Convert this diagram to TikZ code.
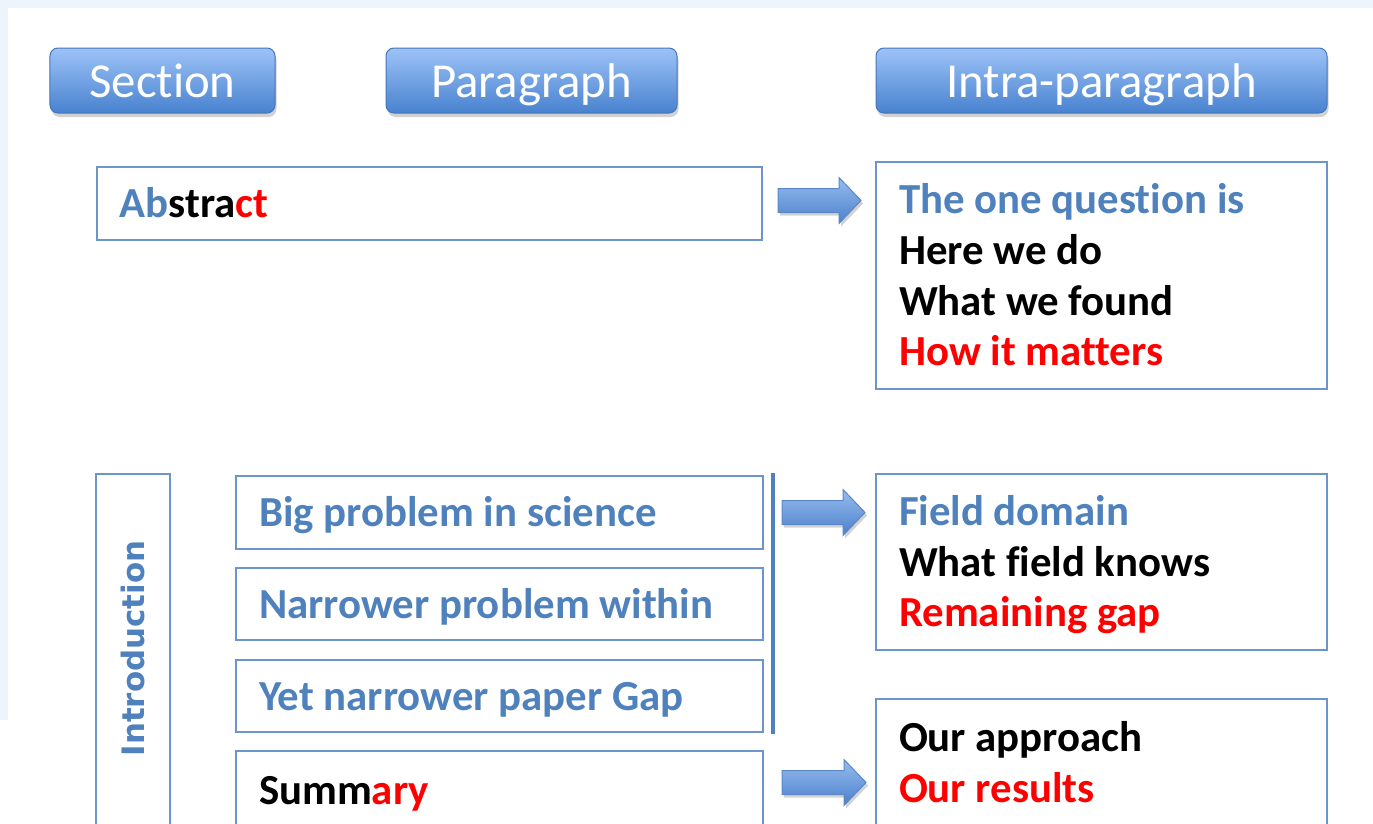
\documentclass[tikz,border=0pt]{standalone}
\usepackage{fontspec}
\setmainfont{Carlito}[Ligatures=NoCommon]
\newfontfamily\dejavufont{DejaVu Sans}
\usetikzlibrary{shadows,calc}
\definecolor{hdrtop}{RGB}{157,195,247}
\definecolor{hdrbot}{RGB}{72,130,207}
\definecolor{hdrborder}{RGB}{70,118,185}
\definecolor{boxborder}{RGB}{108,150,203}
\definecolor{txtblue}{RGB}{79,129,189}
\definecolor{txtred}{RGB}{255,0,0}
\definecolor{arrtop}{RGB}{150,188,238}
\definecolor{arrbot}{RGB}{76,128,204}
\definecolor{arrborder}{RGB}{90,135,200}
\definecolor{bgstrip}{RGB}{238,244,251}
\newcommand\linestrut{\rule[-0.25em]{0pt}{1.16em}}
\tikzset{
  hdr/.style={rounded corners=8bp, draw=hdrborder, line width=1bp,
    top color=hdrtop, bottom color=hdrbot, text=white,
    font=\fontsize{49}{58}\selectfont, inner sep=0pt, text height=37bp, text depth=4bp,
    drop shadow={opacity=0.35, shadow xshift=1.5bp, shadow yshift=-4bp}},
  tbox/.style={draw=boxborder, line width=2bp, fill=white, inner xsep=23bp, inner ysep=0pt,
    align=left, font=\fontsize{43}{51}\selectfont\bfseries, text=txtblue,
    execute at begin node={\spaceskip=0.226em plus 0.05em minus 0.05em\relax\linestrut},
    execute at end node={\linestrut}},
  barrow/.style={draw=arrborder, line width=1bp, top color=arrtop, bottom color=arrbot,
    drop shadow={opacity=0.35, shadow xshift=2bp, shadow yshift=-3bp}},
  vbar/.style={draw=txtblue, line width=4bp,
    drop shadow={opacity=0.3, shadow xshift=2bp, shadow yshift=-2bp}}
}
\newcommand\blockarrow[2]{%
  \path[barrow] let \p1=(#1), \p2=(#2) in
    (\x1,\y1+12bp) -- (\x2-22bp,\y1+12bp) -- (\x2-22bp,\y1+23bp) -- (\x2,\y1)
    -- (\x2-22bp,\y1-23bp) -- (\x2-22bp,\y1-12bp) -- (\x1,\y1-12bp) -- cycle;}
\begin{document}
\begin{tikzpicture}[x=1bp,y=-1bp]
\useasboundingbox (0,0) rectangle (1373,823);
\clip (0,0) rectangle (1373,823);
\fill[white] (0,0) rectangle (1373,823);
\fill[bgstrip] (0,0) rectangle (1373,8);
\fill[bgstrip] (0,0) rectangle (8,720);

% headers
\node[hdr, minimum width=225bp, minimum height=65bp] (sec) at (162.5,80.5) {Section};
\node[hdr, minimum width=291bp, minimum height=65bp] (par) at (531.5,80.5) {Paragraph};
\node[hdr, minimum width=451bp, minimum height=65bp] (ipar) at (1101.5,80.5) {Intra-paragraph};

% abstract
\node[tbox, text width=619bp, minimum height=73bp] (abs) at (429.5,203.5)
  {\textcolor{txtblue}{Ab}\textcolor{black}{stra}\textcolor{txtred}{ct}};
\node[tbox, text width=405bp, minimum height=227bp] (q1) at (1101.5,275.5)
  {The one question is\\ \textcolor{black}{Here we do}\\ \textcolor{black}{What we found}\\ \textcolor{txtred}{How it matters}};

% introduction
\node[draw=boxborder, line width=2bp, fill=white, minimum width=74bp, minimum height=380bp, inner sep=0pt] (intro) at (133,664) {};
\node[font=\dejavufont\bfseries\fontsize{31}{36}\selectfont, text=txtblue, rotate=90] (introlbl) at (133,648.5) {Introduction};

\node[tbox, text width=481bp, minimum height=73bp] (big) at (499.5,512.5) {Big problem in science};
\node[tbox, text width=481bp, minimum height=72bp] (nar) at (499.5,604) {Narrower problem within};
\node[tbox, text width=481bp, minimum height=72bp] (yet) at (499.5,696) {Yet narrower paper Gap};
\node[tbox, text width=481bp, minimum height=78bp] (summ) at (499.5,790)
  {\textcolor{black}{Summ}\textcolor{txtred}{ary}};

\node[tbox, text width=405bp, minimum height=176bp] (q2) at (1101.5,562)
  {Field domain\\ \textcolor{black}{What field knows}\\ \textcolor{txtred}{Remaining gap}};
\node[tbox, text width=405bp, minimum height=127bp] (q3) at (1101.5,762.5)
  {\textcolor{black}{Our approach}\\ \textcolor{txtred}{Our results}};

% vertical bar grouping the three problem boxes
\coordinate (bartop) at ($(big.north east)+(9,-2)$);
\coordinate (barbot) at ($(yet.south east)+(9,1)$);
\draw[vbar] (bartop) -- (barbot);

% block arrows
\coordinate (a1s) at ($(abs.east)+(15,-3)$);
\coordinate (a1e) at ($(q1.west)+(-14,0)$);
\blockarrow{a1s}{a1e}
\coordinate (a2s) at ($(big.east)+(18,0)$);
\coordinate (a2e) at ($(q2.west)+(-10,0)$);
\blockarrow{a2s}{a2e}
\coordinate (a3s) at ($(summ.east)+(18,-7.5)$);
\coordinate (a3e) at ($(q3.west)+(-9,0)$);
\blockarrow{a3s}{a3e}
\end{tikzpicture}
\end{document}
